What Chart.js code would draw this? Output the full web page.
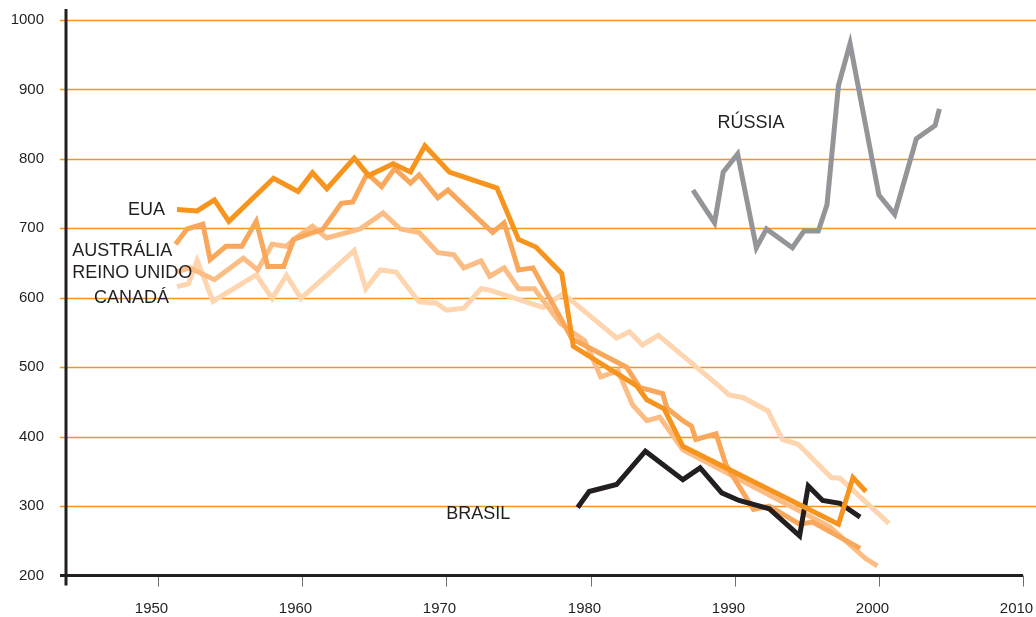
<!DOCTYPE html>
<html>
<head>
<meta charset="utf-8">
<script src="https://cdn.jsdelivr.net/npm/chart.js@4/dist/chart.umd.min.js"></script>
<style>
    html, body { margin: 0; padding: 0; background: #fff; }
    #wrap { width: 1036px; height: 617px; position: relative; }
</style>
</head>
<body>
<div id="wrap"><canvas id="consumoChart"></canvas></div>
<script>
// anos e valores de cada país
const euaYears = [1951.3, 1952.7, 1953.9, 1954.9, 1958.0, 1959.7, 1960.7, 1961.7, 1963.6, 1964.6, 1966.3, 1967.5, 1968.5, 1970.2, 1973.5, 1975.0, 1976.2, 1978.0, 1978.8, 1983.2, 1983.9, 1985.1, 1986.4, 1997.2, 1998.2, 1999.1];
const euaValues = [727, 725, 741, 710, 772, 753, 780, 757, 801, 776, 793, 781, 819, 781, 758, 684, 673, 635, 530, 473, 453, 440, 386, 274, 341, 321];

const australiaYears = [1951.2, 1952.0, 1953.1, 1953.6, 1954.7, 1955.8, 1956.8, 1957.6, 1958.7, 1959.4, 1960.6, 1961.4, 1962.7, 1963.5, 1964.5, 1965.5, 1966.4, 1967.5, 1968.1, 1969.4, 1970.1, 1973.2, 1974.0, 1975.0, 1976.0, 1978.7, 1982.5, 1983.4, 1985.0, 1985.3, 1986.4, 1987.0, 1987.3, 1988.7, 1989.4, 1991.3, 1992.4, 1994.5, 1995.4, 1998.7];
const australiaValues = [677, 699, 706, 655, 674, 674, 710, 645, 645, 684, 693, 698, 736, 738, 779, 760, 786, 765, 777, 744, 755, 694, 708, 640, 643, 541, 500, 471, 462, 441, 423, 415, 396, 404, 359, 295, 300, 274, 277, 239];

const reinoUnidoYears = [1951.2, 1952.2, 1953.9, 1955.9, 1956.9, 1957.9, 1958.9, 1959.4, 1960.7, 1961.7, 1964.0, 1965.6, 1966.8, 1968.1, 1969.4, 1970.5, 1971.2, 1972.4, 1973.0, 1974.0, 1975.0, 1976.1, 1977.9, 1979.6, 1980.7, 1981.9, 1982.9, 1983.9, 1984.8, 1986.4, 1996.6, 1999.1, 1999.9];
const reinoUnidoValues = [637, 643, 626, 657, 640, 677, 674, 684, 703, 686, 699, 722, 699, 694, 665, 662, 643, 653, 631, 643, 613, 613, 563, 538, 486, 495, 446, 423, 428, 381, 270, 224, 214];

const canadaYears = [1951.3, 1952.1, 1952.7, 1953.8, 1956.8, 1957.9, 1958.9, 1959.9, 1963.6, 1964.4, 1965.4, 1966.5, 1968.1, 1969.3, 1970.0, 1971.2, 1972.4, 1973.0, 1976.7, 1978.1, 1981.8, 1982.7, 1983.6, 1984.7, 1988.9, 1989.6, 1990.6, 1992.3, 1993.3, 1994.4, 1996.7, 1997.3, 2000.7];
const canadaValues = [616, 620, 654, 595, 633, 599, 632, 599, 668, 613, 640, 637, 594, 592, 582, 585, 613, 611, 586, 606, 542, 551, 532, 546, 473, 460, 456, 437, 396, 389, 341, 340, 275];

const brasilYears = [1979.1, 1979.9, 1981.8, 1983.8, 1986.4, 1987.6, 1989.1, 1990.3, 1992.4, 1994.5, 1995.1, 1996.1, 1997.3, 1998.7];
const brasilValues = [298, 321, 331, 379, 338, 355, 319, 308, 296, 257, 329, 308, 304, 284];

const russiaYears = [1987.1, 1988.6, 1989.2, 1990.2, 1991.5, 1992.2, 1994.0, 1994.8, 1995.8, 1996.4, 1997.2, 1998.0, 2000.0, 2001.1, 2002.6, 2003.9, 2004.2];
const russiaValues = [755, 708, 781, 807, 672, 699, 672, 696, 696, 734, 906, 966, 748, 720, 829, 848, 872];

// eixos
const xTicks = [1950, 1960, 1970, 1980, 1990, 2000, 2010];
const yTicks = [200, 300, 400, 500, 600, 700, 800, 900, 1000];

// rótulos dos países: texto, ano, valor, alinhamento
const seriesLabels = [
    ['EUA', 1950.47, 727, 'right'],
    ['AUSTRÁLIA', 1947.5, 668, 'center'],
    ['REINO UNIDO', 1948.2, 635, 'center'],
    ['CANADÁ', 1948.15, 600, 'center'],
    ['RÚSSIA', 1991.13, 851, 'center'],
    ['BRASIL', 1972.2, 289, 'center'],
];

const toPoints = (years, values) => years.map((year, i) => ({ x: year, y: values[i] }));

const FONT = '"Liberation Sans", Arial, Helvetica, sans-serif';
const INK = '#231f20';

const makeLine = (label, years, values, color) => ({
    label: label,
    data: toPoints(years, values),
    borderColor: color,
    borderWidth: 5,
    borderJoinStyle: 'miter',
    borderCapStyle: 'butt',
    pointRadius: 0,
    tension: 0,
    fill: false,
    clip: false,
});

const frame = {
    id: 'frame',
    beforeDatasetsDraw(chart) {
        const { ctx, chartArea } = chart;
        const x = chart.scales.x;
        const y = chart.scales.y;
        ctx.save();

        // linhas de grade laranja
        ctx.strokeStyle = '#f7941d';
        ctx.lineWidth = 1.3;
        yTicks.slice(1).forEach((v) => {
            const py = Math.round(y.getPixelForValue(v)) + 0.5;
            ctx.beginPath();
            ctx.moveTo(chartArea.left - 6, py);
            ctx.lineTo(chart.width, py);
            ctx.stroke();
        });

        // valores do eixo y
        ctx.fillStyle = INK;
        ctx.font = '15px ' + FONT;
        ctx.textAlign = 'right';
        ctx.textBaseline = 'middle';
        yTicks.forEach((v) => ctx.fillText(String(v), 44, y.getPixelForValue(v)));

        // marcas e anos do eixo x
        ctx.strokeStyle = '#6d6e71';
        ctx.lineWidth = 1;
        ctx.textAlign = 'center';
        xTicks.forEach((year) => {
            const px = Math.round(x.getPixelForValue(year)) + 0.5;
            ctx.beginPath();
            ctx.moveTo(px, chartArea.bottom);
            ctx.lineTo(px, chartArea.bottom + 11);
            ctx.stroke();
            ctx.fillText(String(year), px - 7, chartArea.bottom + 33);
        });

        // eixos
        ctx.strokeStyle = INK;
        ctx.lineWidth = 3;
        ctx.beginPath();
        ctx.moveTo(chartArea.left, 9);
        ctx.lineTo(chartArea.left, chartArea.bottom + 10);
        ctx.moveTo(chartArea.left - 6, chartArea.bottom);
        ctx.lineTo(chartArea.right, chartArea.bottom);
        ctx.stroke();

        ctx.restore();
    },
    afterDatasetsDraw(chart) {
        const { ctx } = chart;
        const x = chart.scales.x;
        const y = chart.scales.y;
        ctx.save();
        ctx.fillStyle = INK;
        ctx.font = '18px ' + FONT;
        ctx.textBaseline = 'middle';
        seriesLabels.forEach(([text, year, value, align]) => {
            ctx.textAlign = align;
            ctx.fillText(text, x.getPixelForValue(year), y.getPixelForValue(value));
        });
        ctx.restore();
    },
};

const ctx = document.getElementById('consumoChart');
const consumoChart = new Chart(ctx, {
    type: 'line',
    data: {
        datasets: [
            makeLine('EUA', euaYears, euaValues, '#f7941d'),
            makeLine('Brasil', brasilYears, brasilValues, '#231f20'),
            makeLine('Austrália', australiaYears, australiaValues, '#f9a75a'),
            makeLine('Reino Unido', reinoUnidoYears, reinoUnidoValues, '#fcbd84'),
            makeLine('Canadá', canadaYears, canadaValues, '#fed5ae'),
            makeLine('Rússia', russiaYears, russiaValues, '#939598'),
        ],
    },
    options: {
        responsive: true,
        maintainAspectRatio: false,
        animation: false,
        devicePixelRatio: 1,
        layout: {
            padding: { left: 66, right: 13, top: 20, bottom: 41.5 },
        },
        scales: {
            x: { type: 'linear', min: 1943.6, max: 2010, display: false },
            y: { type: 'linear', min: 200, max: 1000, display: false },
        },
        plugins: {
            legend: { display: false },
            tooltip: { enabled: false },
        },
    },
    plugins: [frame],
});
</script>
</body>
</html>
